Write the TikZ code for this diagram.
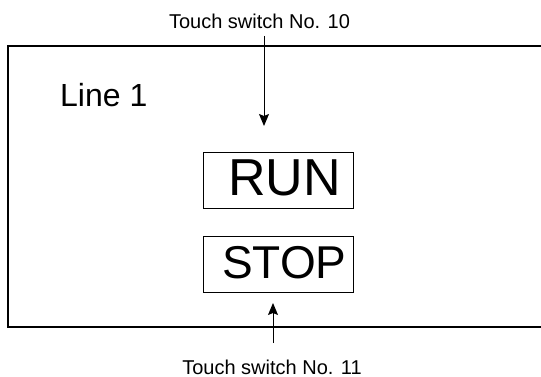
\documentclass[tikz,border=0pt]{standalone}
\usepackage{fontspec}
\setmainfont{Liberation Sans}
\usetikzlibrary{arrows.meta}
\begin{document}
\begin{tikzpicture}[x=1pt,y=-1pt,
  lbl/.style={inner sep=0pt, font=\fontsize{20}{24}\selectfont},
  boxst/.style={draw, line width=1pt, minimum width=150pt, minimum height=56pt, inner sep=0pt},
  arr/.style={line width=1pt, -{Stealth[length=12pt,width=10pt,inset=2pt]}}]
\useasboundingbox (0,0) rectangle (541,377);
\draw[line width=1.6pt] (560,46) -- (8,46) -- (8,327) -- (560,327);
\node[inner sep=0pt, anchor=base west, font=\fontsize{32}{38}\selectfont] (line) at (60,106.7) {Line 1};
\node[boxst] (runbox) at (278.3,180.8) {};
\node[boxst] (stopbox) at (278.3,264.2) {};
\node[inner sep=0pt, anchor=base west, font=\fontsize{52}{60}\selectfont] (run) at (228,195.7) {RUN};
\node[inner sep=0pt, anchor=base west, font=\fontsize{46}{54}\selectfont] (stop) at (222,278) {STOP};
\node[lbl, anchor=base] (sw10) at (259.5,29) {Touch switch No. 10};
\node[lbl, anchor=base] (sw11) at (272,374) {Touch switch No. 11};
\coordinate (t10) at (264,126);
\coordinate (t11) at (273,303);
\draw[arr] (264,36) -- (t10);
\draw[arr] (273,343) -- (t11);
\end{tikzpicture}
\end{document}
